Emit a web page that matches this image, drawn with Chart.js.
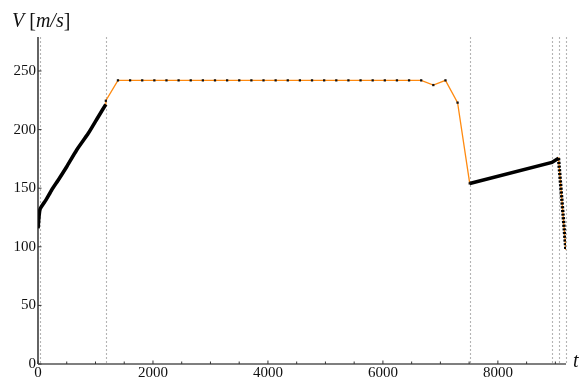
<!DOCTYPE html>
<html>
<head>
<meta charset="utf-8">
<script src="https://cdn.jsdelivr.net/npm/chart.js@4/dist/chart.umd.min.js"></script>
<style>
  html, body { margin: 0; padding: 0; background: #fff; }
  #wrap { width: 581px; height: 380px; }
</style>
</head>
<body>
<div id="wrap"><canvas id="c" width="581" height="380"></canvas></div>
<script>
// Speed profile V(t) of a flight, split into phases.

// Climb: initial jump, then a smooth acceleration
const climbT = [0, 35, 139, 238, 353, 499, 673, 875, 1049, 1180];
const climbV = [115.8, 132, 140, 148.5, 157, 168.3, 182.6, 196.8, 211, 221.5];

// Cruise nodes (marked points joined by the orange path)
const cruiseT = [1180, 1391, 1602, 1813, 2024, 2235, 2446, 2657, 2868, 3079, 3290,
                 3501, 3712, 3923, 4134, 4345, 4556, 4767, 4978, 5189, 5400,
                 5611, 5822, 6033, 6244, 6455, 6666, 6877, 7088, 7299, 7510];
const cruiseV = [224.6, 242, 242, 242, 242, 242, 242, 242, 242, 242, 242,
                 242, 242, 242, 242, 242, 242, 242, 242, 242, 242,
                 242, 242, 242, 242, 242, 242, 238, 242, 223, 154.1];

// Second segment after the drop
const secondT = [7510, 8940, 9055];
const secondV = [154.1, 172, 175.6];

// Final descent
const descentT = [9055, 9183];
const descentV = [175.6, 97.3];

// Phase boundaries (dotted verticals)
const phaseT = [30, 1180, 7510, 8940, 9055, 9183];

// Axis ticks
const xTicks = [0, 2000, 4000, 6000, 8000];
const xMinorTicks = [500, 1000, 1500, 2500, 3000, 3500, 4500, 5000, 5500, 6500, 7000, 7500, 8500, 9000];
const yTicks = [0, 50, 100, 150, 200, 250];

const X_MAX = 9185;
const Y_MAX = 279;

const pts = (ts, vs) => ts.map((t, i) => ({ x: t, y: vs[i] }));

const orangePath = [
  ...pts(climbT, climbV),
  ...pts(cruiseT, cruiseV),
  ...pts(secondT.slice(1), secondV.slice(1)),
  ...pts(descentT.slice(1), descentV.slice(1))
];

const ORANGE = '#ff8a10';
const SERIF = '"Liberation Serif", "DejaVu Serif", serif';

const decor = {
  id: 'decor',
  beforeDatasetsDraw(chart) {
    const { ctx, chartArea: a, scales: { x } } = chart;
    ctx.save();
    // dotted phase boundaries
    ctx.strokeStyle = '#b4b4b4';
    ctx.lineWidth = 1.1;
    ctx.setLineDash([2, 2]);
    phaseT.forEach(t => {
      const px = Math.round(x.getPixelForValue(t)) + 0.5;
      ctx.beginPath();
      ctx.moveTo(px, a.top);
      ctx.lineTo(px, a.bottom);
      ctx.stroke();
    });
    ctx.setLineDash([]);
    ctx.restore();
  },
  afterDraw(chart) {
    const { ctx, chartArea: a, scales: { x, y } } = chart;
    ctx.save();
    // axes
    ctx.lineWidth = 1.3;
    ctx.strokeStyle = '#111';
    ctx.beginPath();
    ctx.moveTo(a.left, a.top);
    ctx.lineTo(a.left, a.bottom);
    ctx.stroke();
    ctx.strokeStyle = '#555';
    ctx.beginPath();
    ctx.moveTo(a.left, a.bottom);
    ctx.lineTo(x.getPixelForValue(X_MAX), a.bottom);
    ctx.stroke();
    // tick marks
    ctx.lineWidth = 1;
    ctx.strokeStyle = '#333';
    xTicks.concat(xMinorTicks).forEach(t => {
      const px = x.getPixelForValue(t);
      const len = xTicks.includes(t) ? 3.5 : 2.5;
      ctx.beginPath();
      ctx.moveTo(px, a.bottom);
      ctx.lineTo(px, a.bottom - len);
      ctx.stroke();
    });
    yTicks.forEach(v => {
      const py = y.getPixelForValue(v);
      ctx.beginPath();
      ctx.moveTo(a.left, py);
      ctx.lineTo(a.left + 3.5, py);
      ctx.stroke();
    });
    // axis titles
    ctx.fillStyle = '#111';
    ctx.textBaseline = 'alphabetic';
    ctx.textAlign = 'left';
    let cx = 12;
    const parts = [
      ['italic', 'V'], ['normal', ' ['], ['italic', 'm/s'], ['normal', ']']
    ];
    parts.forEach(([style, s]) => {
      ctx.font = style + ' 20px ' + SERIF;
      ctx.fillText(s, cx, 27);
      cx += ctx.measureText(s).width;
    });
    ctx.font = 'italic 20px ' + SERIF;
    ctx.fillText('t', 573, 367);
    ctx.restore();
  }
};

new Chart(document.getElementById('c'), {
  type: 'line',
  data: {
    datasets: [
      {
        label: 'nodes',
        data: pts(cruiseT, cruiseV),
        showLine: false,
        pointStyle: 'rect',
        pointRadius: 1.6,
        pointBackgroundColor: '#111',
        pointBorderWidth: 0,
        order: 1
      },
      {
        label: 'climb',
        data: pts(climbT, climbV),
        borderColor: '#000',
        borderWidth: 3.6,
        pointRadius: 0,
        tension: 0.2,
        order: 2
      },
      {
        label: 'second',
        data: pts(secondT, secondV),
        borderColor: '#000',
        borderWidth: 3.6,
        pointRadius: 0,
        tension: 0,
        order: 2
      },
      {
        label: 'descent',
        data: pts(descentT, descentV),
        borderColor: '#000',
        borderWidth: 3.4,
        borderDash: [2.2, 1.5],
        pointRadius: 0,
        tension: 0,
        order: 2
      },
      {
        label: 'path',
        data: orangePath,
        borderColor: ORANGE,
        borderWidth: 1.3,
        pointRadius: 0,
        tension: 0,
        order: 3
      }
    ]
  },
  options: {
    responsive: false,
    animation: false,
    events: [],
    layout: { padding: { left: 0, right: 15, top: 37, bottom: 0 } },
    plugins: { legend: { display: false }, tooltip: { enabled: false } },
    scales: {
      x: {
        type: 'linear',
        min: 0,
        max: X_MAX,
        border: { display: false },
        grid: { display: false, drawTicks: false },
        afterBuildTicks: s => { s.ticks = xTicks.map(v => ({ value: v })); },
        afterFit: s => { s.height = 16; },
        ticks: {
          padding: 0,
          maxRotation: 0,
          autoSkip: false,
          color: '#111',
          font: { family: SERIF, size: 15 },
          callback: v => String(v)
        }
      },
      y: {
        type: 'linear',
        min: 0,
        max: Y_MAX,
        border: { display: false },
        grid: { display: false, drawTicks: false },
        afterBuildTicks: s => { s.ticks = yTicks.map(v => ({ value: v })); },
        afterFit: s => { s.width = 38; },
        ticks: {
          padding: 2,
          autoSkip: false,
          color: '#111',
          font: { family: SERIF, size: 15 },
          callback: v => String(v)
        }
      }
    }
  },
  plugins: [decor]
});
</script>
</body>
</html>
